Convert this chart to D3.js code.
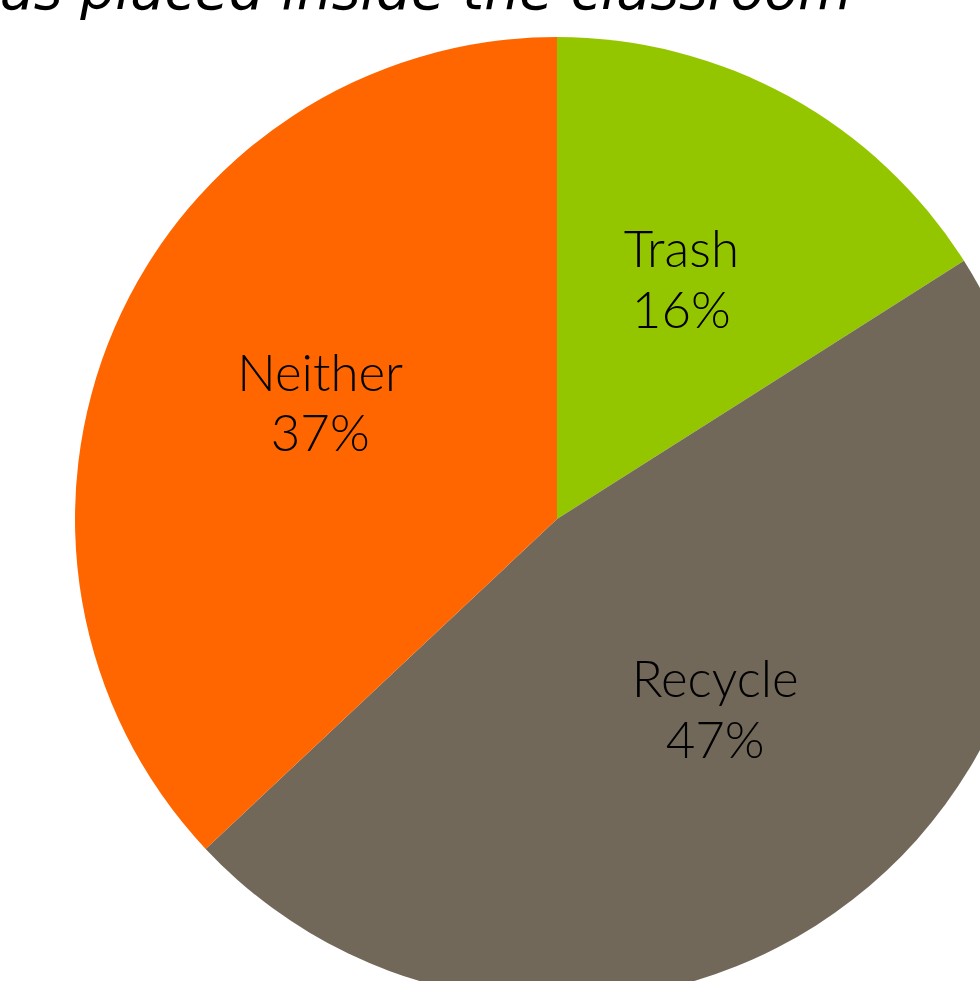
<!DOCTYPE html>
<html>
<head>
<meta charset="utf-8">
<script src="https://cdn.jsdelivr.net/npm/d3@7"></script>
<style>
  body { margin: 0; background: #fff; }
  svg { display: block; }
</style>
</head>
<body>
<div id="chart"></div>
<script>
const categories = ["Trash", "Recycle", "Neither"];
const percents = [16, 47, 37];
const colors = ["#94C600", "#71685A", "#FF6600"];
const titleStart = "Where waste w";
const titleVisible = "as placed inside the classroom";

const svgWidth = 980, svgHeight = 981;
const cx = 557, cy = 519, radius = 482;

const svg = d3.select("#chart").append("svg")
  .attr("width", svgWidth).attr("height", svgHeight);

const data = categories.map((c, i) => ({ name: c, value: percents[i], color: colors[i] }));

const pie = d3.pie().value(d => d.value).sort(null);
const arc = d3.arc().innerRadius(0).outerRadius(radius);
const labelArc = d3.arc().innerRadius(258).outerRadius(258);

const g = svg.append("g").attr("transform", "translate(" + cx + "," + cy + ")");

g.selectAll("path").data(pie(data)).enter().append("path")
  .attr("d", arc)
  .attr("fill", d => d.data.color);

// labels: name + percent on two lines
const labels = g.selectAll("text.lbl").data(pie(data)).enter().append("text")
  .attr("class", "lbl")
  .attr("transform", d => "translate(" + labelArc.centroid(d) + ")")
  .attr("text-anchor", "middle")
  .style("font-family", "Lato, 'Liberation Sans', sans-serif")
  .style("font-weight", 300)
  .style("font-size", "51px")
  .attr("fill", "#000");
labels.append("tspan").attr("x", 0).attr("dy", "-0.5em").text(d => d.data.name);
labels.append("tspan").attr("x", 0).attr("dy", "1.18em").text(d => d.data.value + "%");

// title, cut off by the top edge; size it so the visible part spans like the original
const title = svg.append("text")
  .attr("y", 9)
  .style("font-family", "'DejaVu Sans', sans-serif")
  .style("font-style", "italic")
  .style("font-size", "50px")
  .attr("fill", "#000");
const t1 = title.append("tspan").text(titleStart);
const t2 = title.append("tspan").text(titleVisible);
const w2 = t2.node().getComputedTextLength();
const fs = 50 * 852 / w2;
title.style("font-size", fs + "px");
const w1 = t1.node().getComputedTextLength();
title.attr("x", -w1);
</script>
</body>
</html>
